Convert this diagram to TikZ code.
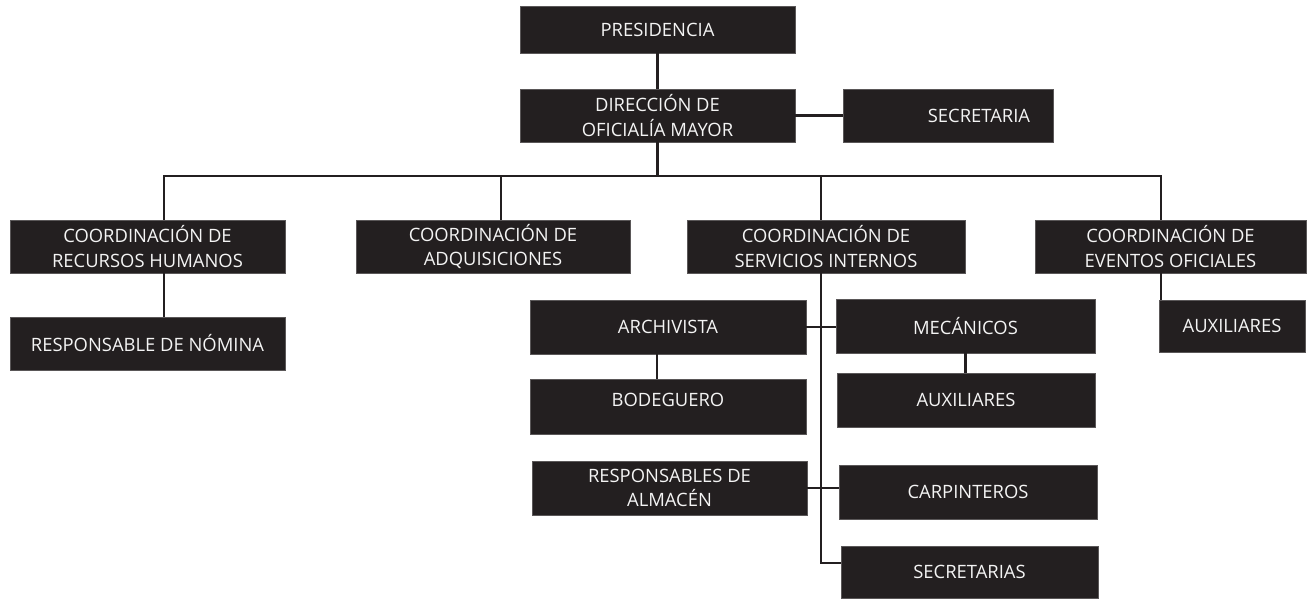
\documentclass[tikz,border=0pt]{standalone}
\usepackage{fontspec}
\setmainfont{Open Sans}
\definecolor{boxc}{HTML}{231F20}
\definecolor{txtc}{HTML}{F4F4F4}
\definecolor{linec}{HTML}{231F20}
\newcommand{\orgfont}{\fontsize{18.4}{24.5}\selectfont}
\tikzset{
  box/.style={rectangle, fill=boxc, draw=boxc!75!white, line width=0.6pt, text=txtc,
    align=center, inner sep=0pt, font=\orgfont},
  wire/.style={draw=linec, line width=2.4pt}
}
\begin{document}
\begin{tikzpicture}[x=1pt,y=-1pt]
\useasboundingbox (0,0) rectangle (1309,598);
% nodes
\node[box, minimum width=275, minimum height=47] (pres) at (657.5,29.5) {PRESIDENCIA};
\node[box, minimum width=275, minimum height=53] (dir) at (657.5,115.5) {DIRECCIÓN DE\\OFICIALÍA MAYOR};
\node[box, minimum width=210, minimum height=53] (sec) at (948,115.5) {\hspace*{62pt}SECRETARIA};
\node[box, minimum width=275, minimum height=53] (rrhh) at (147.5,246.5) {COORDINACIÓN DE\\RECURSOS HUMANOS};
\node[box, minimum width=274, minimum height=53] (adq) at (493,246.5) {COORDINACIÓN DE\\ADQUISICIONES};
\node[box, minimum width=278, minimum height=53] (serv) at (826,246.5) {COORDINACIÓN DE\\SERVICIOS INTERNOS};
\node[box, minimum width=271, minimum height=53] (even) at (1170.5,246.5) {COORDINACIÓN DE\\EVENTOS OFICIALES};
\node[box, minimum width=275, minimum height=53] (nom) at (147.5,343.5) {RESPONSABLE DE NÓMINA};
\node[box, minimum width=276, minimum height=54] (arch) at (668,327) {ARCHIVISTA};
\node[box, minimum width=276, minimum height=55] (bode) at (668,406.5) {\raisebox{7pt}[\height][\depth]{BODEGUERO}};
\node[box, minimum width=259, minimum height=54] (meca) at (965.5,326) {MECÁNICOS};
\node[box, minimum width=258, minimum height=54] (aux1) at (966,400) {AUXILIARES};
\node[box, minimum width=275, minimum height=54] (alma) at (669.5,488) {RESPONSABLES DE\\ALMACÉN};
\node[box, minimum width=258, minimum height=54] (carp) at (968,492) {CARPINTEROS};
\node[box, minimum width=257, minimum height=52] (secs) at (969.5,572) {SECRETARIAS};
\node[box, minimum width=146, minimum height=52] (aux2) at (1232,326) {AUXILIARES};
% bus coordinates
\coordinate (b1) at (164,176);
\coordinate (b2) at (501,176);
\coordinate (b3) at (821,176);
\coordinate (b4) at (1161,176);
\coordinate (tc) at (821,563);
% connectors
\draw[wire] (pres) -- (dir);
\draw[wire] (dir) -- (sec);
\draw[wire] (dir.south) -- (dir.south |- b1);
\draw[wire] (rrhh.north -| b1) -- (b1) -- (b4) -- (even.north -| b4);
\draw[wire] (b2) -- (adq.north -| b2);
\draw[wire] (b3) -- (serv.north -| b3);
\draw[wire] (rrhh.south -| b1) -- (nom.north -| b1);
\draw[wire] (serv.south -| b3) -- (tc) -- (tc -| secs.west);
\draw[wire] (arch.east) -- (arch.east -| meca.west);
\draw[wire] ([xshift=-11pt]arch.south) -- ([xshift=-11pt]bode.north);
\draw[wire] (meca.south) -- (meca.south |- aux1.north);
\draw[wire] (alma.east) -- (alma.east -| carp.west);
\draw[wire] (even.south -| b4) -- (aux2.north -| b4);
\end{tikzpicture}
\end{document}
